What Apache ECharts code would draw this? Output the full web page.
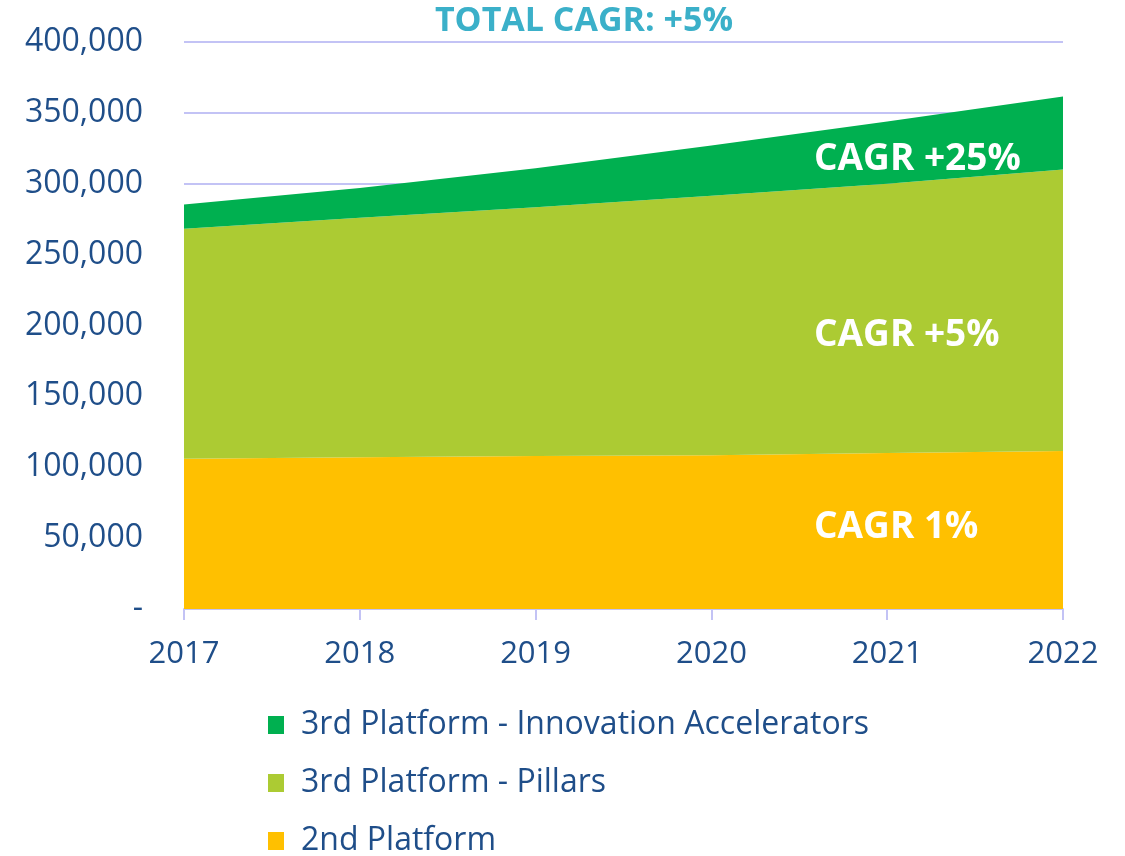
<!DOCTYPE html>
<html>
<head>
<meta charset="utf-8">
<script src="https://cdn.jsdelivr.net/npm/echarts@6/dist/echarts.min.js"></script>
<style>html,body{margin:0;padding:0;background:#fff}#c{width:1125px;height:856px}</style>
</head>
<body>
<div id="c"></div>
<script>
var years = ['2017', '2018', '2019', '2020', '2021', '2022'];
var secondPlatform = [106000, 107000, 108000, 108500, 110000, 111500];
var pillars = [162300, 169000, 175500, 183000, 190000, 198500];
var innovation = [17100, 21000, 27500, 35500, 44000, 51500];
var yTicks = [0, 50000, 100000, 150000, 200000, 250000, 300000, 350000, 400000];

var textColor = '#1F4E89';
var font = 'Open Sans';
var chart = echarts.init(document.getElementById('c'));
chart.setOption({
  animation: false,
  title: {
    text: 'TOTAL CAGR: +5%',
    left: 579, top: -1, textAlign: 'center',
    textStyle: {color: '#3BB0C9', fontSize: 34, fontWeight: 'bold', fontFamily: font}
  },
  grid: {left: 184, right: 62, top: 42, bottom: 247, containLabel: false},
  legend: {
    orient: 'vertical', left: 268, top: 709, height: 170, itemGap: 26, padding: 0,
    itemWidth: 16, itemHeight: 18, icon: 'rect',
    data: ['3rd Platform - Innovation Accelerators', '3rd Platform - Pillars', '2nd Platform'],
    textStyle: {color: textColor, fontSize: 32, fontFamily: font, padding: [0, 0, 0, 12], lineHeight: 32}
  },
  xAxis: {
    type: 'category', data: years, boundaryGap: false,
    axisLine: {lineStyle: {color: '#C3C3F5', width: 2}},
    axisTick: {show: true, length: 11, lineStyle: {color: '#C3C3F5', width: 2}},
    axisLabel: {color: textColor, fontSize: 31, fontFamily: font, margin: 30}
  },
  yAxis: {
    type: 'value', min: yTicks[0], max: yTicks[yTicks.length - 1], interval: 50000,
    axisLine: {show: false}, axisTick: {show: false},
    splitLine: {lineStyle: {color: '#C3C3F5', width: 2}},
    axisLabel: {
      color: textColor, fontSize: 32, fontFamily: font, margin: 41,
      formatter: function (v) { return v === 0 ? '-' : v.toLocaleString('en-US'); }
    }
  },
  series: [
    {name: '2nd Platform', type: 'line', stack: 'a', data: secondPlatform, symbol: 'none',
      lineStyle: {width: 0}, itemStyle: {color: '#FFC000'}, areaStyle: {color: '#FFC000', opacity: 1}},
    {name: '3rd Platform - Pillars', type: 'line', stack: 'a', data: pillars, symbol: 'none',
      lineStyle: {width: 0}, itemStyle: {color: '#ACCB33'}, areaStyle: {color: '#ACCB33', opacity: 1}},
    {name: '3rd Platform - Innovation Accelerators', type: 'line', stack: 'a', data: innovation, symbol: 'none',
      lineStyle: {width: 0}, itemStyle: {color: '#00B050'}, areaStyle: {color: '#00B050', opacity: 1}}
  ],
  graphic: [
    {type: 'text', left: 814, top: 141, z: 100, style: {text: 'CAGR +25%', fill: '#fff', fontSize: 37, fontWeight: 'bold', fontFamily: font}},
    {type: 'text', left: 814, top: 317, z: 100, style: {text: 'CAGR +5%', fill: '#fff', fontSize: 37, fontWeight: 'bold', fontFamily: font}},
    {type: 'text', left: 814, top: 509, z: 100, style: {text: 'CAGR 1%', fill: '#fff', fontSize: 37, fontWeight: 'bold', fontFamily: font}}
  ]
});
</script>
</body>
</html>
